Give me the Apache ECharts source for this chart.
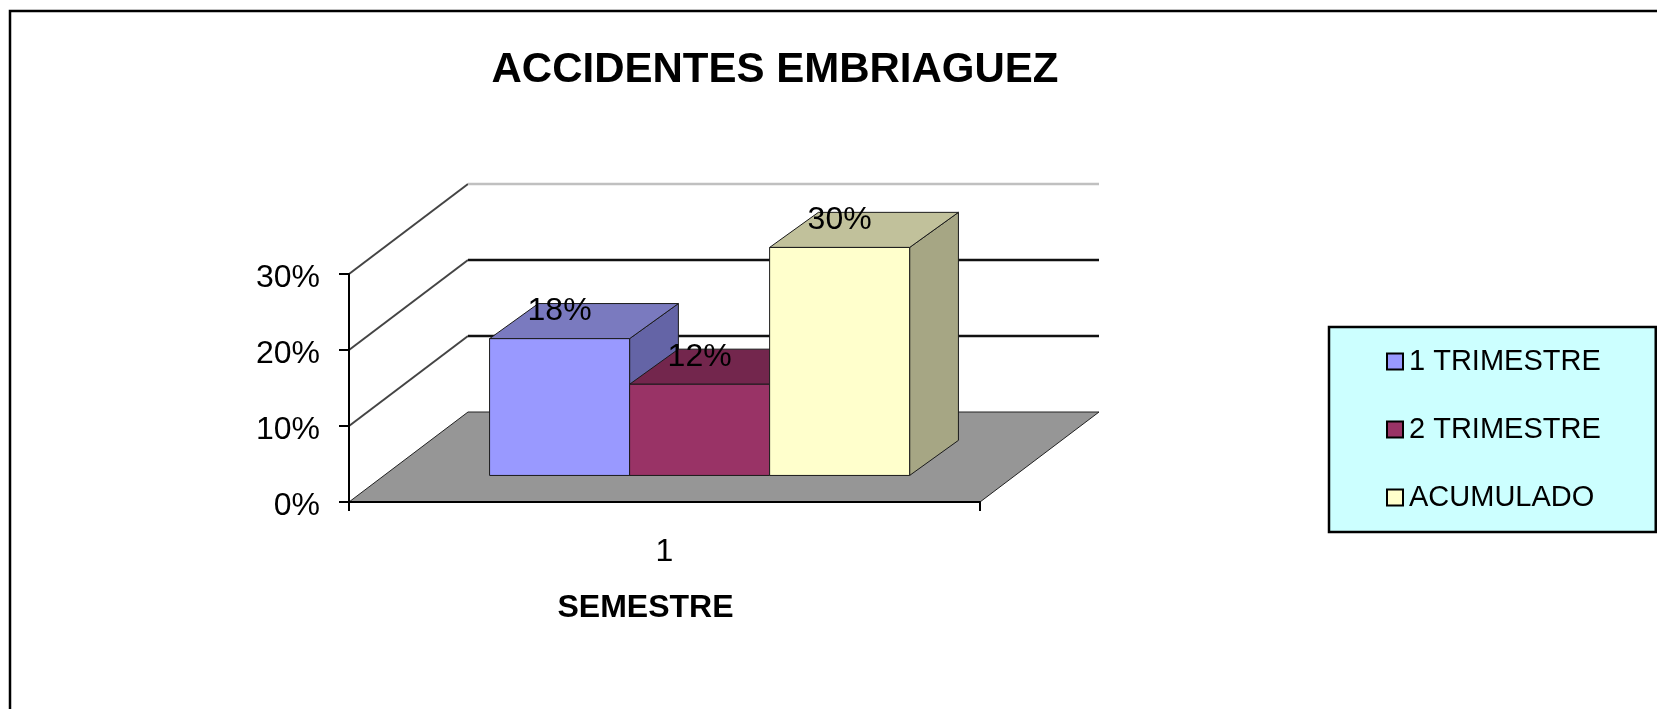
<!DOCTYPE html>
<html><head><meta charset="utf-8">
<style>html,body{margin:0;padding:0;background:#fff}#c{width:1657px;height:709px}</style>
<script src="https://cdn.jsdelivr.net/npm/echarts@6/dist/echarts.min.js"></script>
</head><body><div id="c"></div>
<script>
const categories = ['1'];
const seriesNames = ['1 TRIMESTRE', '2 TRIMESTRE', 'ACUMULADO'];
const trimestre1 = [0.18];
const trimestre2 = [0.12];
const acumulado = [0.30];
const wallTicks = [0, 0.1, 0.2, 0.3];

const chart = echarts.init(document.getElementById('c'), null, {renderer: 'canvas'});
const FONT = '"Liberation Sans", Arial, sans-serif';
const depth = {x: 119, y: -90};
const barPlane = 0.295, barDepthX = 0.41, barDepthY = 0.39, barBand = 0.2219;

function wallItem(params, api) {
  const v = api.value(0), cs = params.coordSys;
  const p = api.coord([0, v]);
  const x0 = cs.x, x1 = cs.x + cs.width, y = p[1];
  const children = [];
  if (v === 0) {
    children.push({type: 'polygon', shape: {points: [[x0, y], [x0 + depth.x, y + depth.y], [x1 + depth.x, y + depth.y], [x1, y]]},
      style: {fill: '#969696', stroke: '#222', lineWidth: 1}});
  } else {
    children.push({type: 'polyline', shape: {points: [[x0, y], [x0 + depth.x, y + depth.y]]}, style: {fill: null, stroke: '#444', lineWidth: 2}});
    children.push({type: 'line', shape: {x1: x0 + depth.x, y1: y + depth.y, x2: x1 + depth.x, y2: y + depth.y},
      style: {stroke: v >= 0.29 ? '#c0c0c0' : '#111', lineWidth: 2.5}});
  }
  return {type: 'group', children};
}

function barRender(slot, front, top, side) {
  return function (params, api) {
    const val = api.value(1);
    const c = api.coord([api.value(0), val]);
    const b = api.coord([api.value(0), 0]);
    const band = api.size([1, 0])[0];
    const w = band * barBand;
    const ox = depth.x * barPlane, oy = depth.y * barPlane;
    const dx = depth.x * barDepthX, dy = depth.y * barDepthY;
    const xl = c[0] + (slot - 1.5) * w + ox, xr = xl + w;
    const yt = c[1] + oy, yb = b[1] + oy;
    const edge = {stroke: '#1a1a1a', lineWidth: 1};
    return {type: 'group', children: [
      {type: 'polygon', shape: {points: [[xr, yt], [xr + dx, yt + dy], [xr + dx, yb + dy], [xr, yb]]}, style: Object.assign({fill: side}, edge)},
      {type: 'polygon', shape: {points: [[xl, yt], [xl + dx, yt + dy], [xr + dx, yt + dy], [xr, yt]]}, style: Object.assign({fill: top}, edge)},
      {type: 'rect', shape: {x: xl, y: yt, width: w, height: yb - yt}, style: Object.assign({fill: front}, edge)},
      {type: 'text', style: {text: Math.round(val * 100) + '%', x: (xl + xr) / 2, y: yt - 27, align: 'center', verticalAlign: 'middle',
        fill: '#000', font: '32px ' + FONT}}
    ]};
  };
}

function barSeries(name, values, slot, front, top, side) {
  return {name, type: 'custom', coordinateSystem: 'cartesian2d', clip: false, z: 3,
    itemStyle: {color: front},
    encode: {x: 0, y: 1},
    data: values.map((v, i) => [i, v]),
    renderItem: barRender(slot, front, top, side)};
}

chart.setOption({
  animation: false,
  backgroundColor: '#fff',
  title: {text: 'ACCIDENTES EMBRIAGUEZ', left: 770, top: 65, textAlign: 'center', textVerticalAlign: 'middle',
    textStyle: {fontFamily: FONT, fontWeight: 'bold', fontSize: 42, color: '#000'}},
  graphic: [{type: 'rect', shape: {x: 10, y: 11, width: 1700, height: 760}, silent: true,
    style: {fill: null, stroke: '#000', lineWidth: 2.5}, z: -10}],
  grid: {left: 349, top: 274, width: 631, height: 228},
  legend: {orient: 'vertical', left: 1329, top: 327, backgroundColor: '#CCFFFF', borderColor: '#000', borderWidth: 2.5, borderRadius: 0,
    padding: [18, 55, 18, 57], itemWidth: 16, itemHeight: 16, itemGap: 35, icon: 'rect',
    itemStyle: {borderColor: '#000', borderWidth: 2},
    textStyle: {fontFamily: FONT, fontSize: 29, color: '#000', padding: [1, 0, 0, 1], lineHeight: 32},
    data: seriesNames},
  xAxis: {type: 'category', data: categories, boundaryGap: true,
    axisLine: {lineStyle: {color: '#000', width: 2}},
    axisTick: {show: true, length: 9, lineStyle: {color: '#000', width: 2}, alignWithLabel: false},
    axisLabel: {fontFamily: FONT, fontSize: 32, color: '#000', margin: 34},
    splitLine: {show: false},
    name: 'SEMESTRE', nameLocation: 'middle', nameGap: 90,
    nameTextStyle: {fontFamily: FONT, fontWeight: 'bold', fontSize: 32, color: '#000', padding: [0, 38, 0, 0]}},
  yAxis: {type: 'value', min: 0, max: 0.3, interval: 0.1,
    axisLine: {show: true, lineStyle: {color: '#000', width: 2}},
    axisTick: {show: true, length: 10, lineStyle: {color: '#000', width: 2}},
    axisLabel: {fontFamily: FONT, fontSize: 32, color: '#000', margin: 29, formatter: v => '{a|' + Math.round(v * 100) + '%}',
      rich: {a: {fontFamily: FONT, fontSize: 32, color: '#000', padding: [8, 0, 0, 0]}}},
    splitLine: {show: false}},
  series: [
    {name: 'walls', type: 'custom', coordinateSystem: 'cartesian2d', clip: false, z: -1, silent: true,
      encode: {y: 0}, data: wallTicks.map(v => [v]), renderItem: wallItem},
    barSeries(seriesNames[0], trimestre1, 0, '#9999FF', '#7A7ABF', '#6464A6'),
    barSeries(seriesNames[1], trimestre2, 1, '#993366', '#73264D', '#642142'),
    barSeries(seriesNames[2], acumulado, 2, '#FFFFCC', '#C1C19B', '#A6A684')
  ]
});
</script></body></html>
